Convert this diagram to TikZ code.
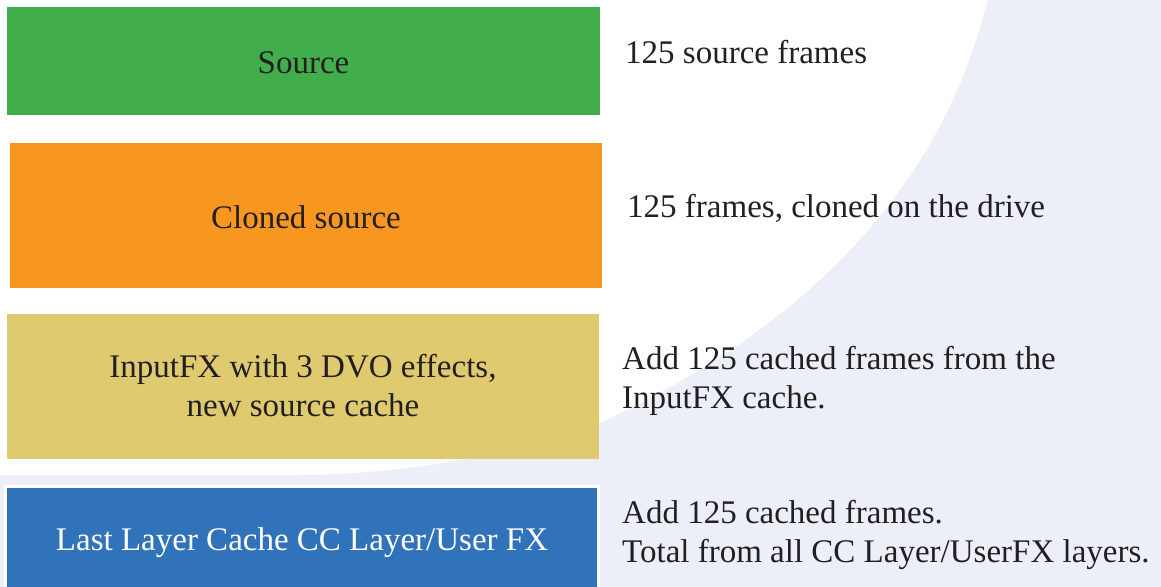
\documentclass[tikz,border=0pt]{standalone}
\usepackage{fontspec}
\setmainfont{Liberation Serif}
\definecolor{bgtint}{HTML}{ECEFF7}
\definecolor{cgreen}{HTML}{41AE4B}
\definecolor{corange}{HTML}{F7971F}
\definecolor{cyellow}{HTML}{DFCA6F}
\definecolor{cblue}{HTML}{3173BA}
\definecolor{ink}{HTML}{231F20}
\newcommand\liftby[2]{\raisebox{#1}[\height][\depth]{#2}}
\begin{document}
\begin{tikzpicture}[x=1pt,y=-1pt,
  stage/.style={rectangle,inner sep=0pt,align=center,text=ink,
    font=\fontsize{33}{39}\selectfont},
  note/.style={anchor=west,inner sep=0pt,align=left,text=ink,
    font=\fontsize{33}{39}\selectfont}]
\useasboundingbox (0,0) rectangle (1161,586);
\clip (0,0) rectangle (1161,586);
\fill[white] (0,0) rectangle (1161,586);
\fill[bgtint] (988,-2) .. controls (940,200) and (790,335) .. (600,423)
  .. controls (530,450) and (420,474) .. (300,475) -- (0,475)
  -- (0,590) -- (1165,590) -- (1165,-2) -- cycle;
\node[stage,fill=cgreen,minimum width=593pt,minimum height=108pt] (src) at (303.5,61) {\liftby{-2pt}{Source}};
\node[stage,fill=corange,minimum width=592pt,minimum height=145pt] (clone) at (306,215.5) {\liftby{-2pt}{Cloned source}};
\node[stage,fill=cyellow,minimum width=592pt,minimum height=145pt] (input) at (303,386.5) {\liftby{-3pt}{\begin{tabular}{@{}c@{}}InputFX with 3 DVO effects,\\new source cache\end{tabular}}};
\node[stage,fill=cblue,draw=white,line width=3pt,text=white,minimum width=593pt,minimum height=113pt] (last) at (302,543) {Last Layer Cache CC Layer/User FX};
\node[note] (n1) at (625,52) {125 source frames};
\node[note] (n2) at (627,208) {125 frames, cloned on the drive};
\node[note] (n3) at (622,381) {Add 125 cached frames from the\\InputFX cache.};
\node[note] (n4) at (622,535) {Add 125 cached frames.\\Total from all CC Layer/UserFX layers.};
\end{tikzpicture}
\end{document}
